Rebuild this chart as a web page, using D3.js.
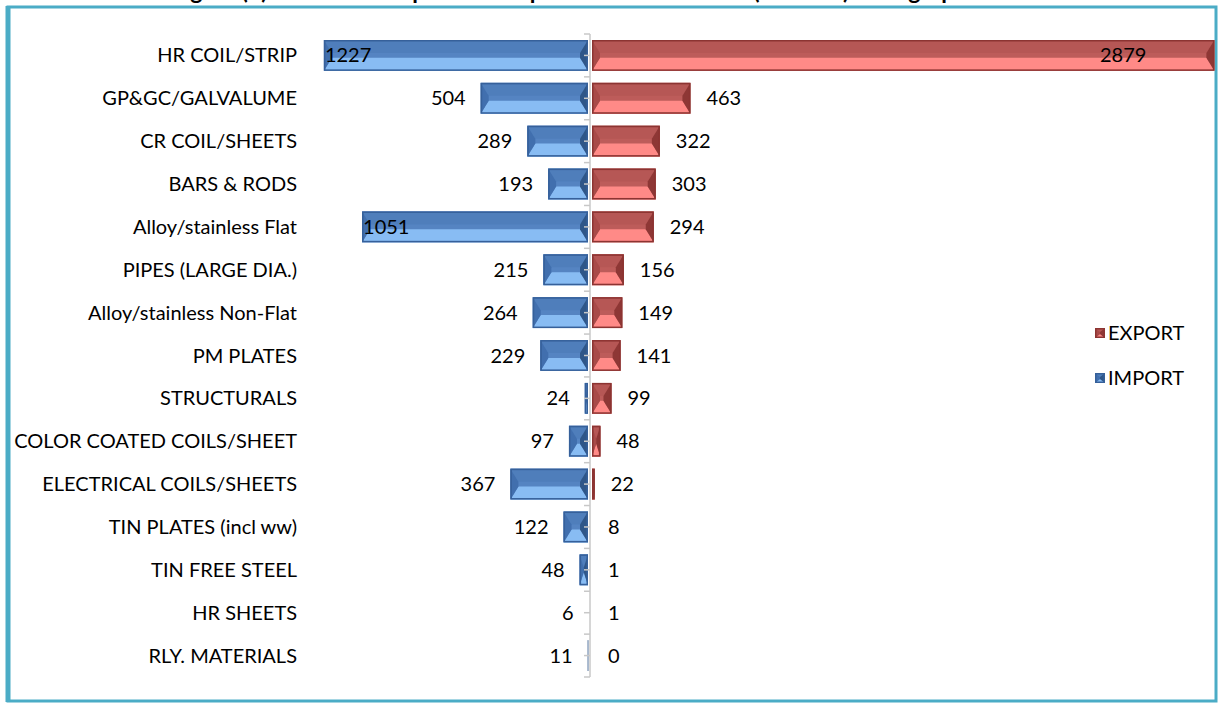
<!DOCTYPE html>
<html>
<head>
<meta charset="utf-8">
<script src="https://cdn.jsdelivr.net/npm/d3@7"></script>
<style>
  html, body { margin: 0; padding: 0; background: #fff; }
  svg { display: block; font-family: Lato, "Open Sans", sans-serif; }
</style>
</head>
<body>
<svg id="chart" width="1219" height="704"></svg>
<script>
// categories top to bottom
const categories = [
    "HR COIL/STRIP", "GP&GC/GALVALUME", "CR COIL/SHEETS", "BARS & RODS",
    "Alloy/stainless Flat", "PIPES (LARGE DIA.)", "Alloy/stainless Non-Flat",
    "PM PLATES", "STRUCTURALS", "COLOR COATED COILS/SHEET",
    "ELECTRICAL COILS/SHEETS", "TIN PLATES (incl ww)", "TIN FREE STEEL",
    "HR SHEETS", "RLY. MATERIALS"
];
const exportValues = [2879, 463, 322, 303, 294, 156, 149, 141, 99, 48, 22, 8, 1, 1, 0];
const importValues = [1227, 504, 289, 193, 1051, 215, 264, 229, 24, 97, 367, 122, 48, 6, 11];
const seriesNames = ["EXPORT", "IMPORT"];

const svg = d3.select("#chart");

const blue = {stroke: "#36609a", top: "#4f7ebb", face: "#5584c2", bottom: "#88bcf3", left: "#416fae", right: "#2f5688"};
const red  = {stroke: "#8c3432", top: "#b65755", face: "#bd5c5a", bottom: "#ff8a87", left: "#a84a48", right: "#8e3735"};

// title sits above the frame, only its lowest part is in view
svg.append("text")
    .attr("x", 610).attr("y", -1)
    .attr("text-anchor", "middle")
    .attr("font-size", 23).attr("font-weight", "bold")
    .attr("fill", "#000")
    .text("Figure (1): Item-wise Import and Export of Finished Steel (in '000 t) during April-March");

// chart frame
svg.append("rect")
    .attr("x", 8).attr("y", 7)
    .attr("width", 1208).attr("height", 694)
    .attr("fill", "none")
    .attr("stroke", "#4bacc6").attr("stroke-width", 3);
svg.append("line")
    .attr("x1", 8).attr("x2", 8).attr("y1", 6).attr("y2", 702)
    .attr("stroke", "#4bacc6").attr("stroke-width", 5);

const cx = 590;
const x = d3.scaleLinear().domain([-2880, 2880]).range([cx - 624.6, cx + 624.6]);
const y = d3.scaleBand().domain(categories).range([34, 677]).paddingInner(0.28).paddingOuter(0.14);

// beveled rectangle
function bevelBar(g, x0, x1, y0, y1, c){
    const w = x1 - x0, h = y1 - y0;
    if (w <= 0) return;
    if (w < 1.5) {
        g.append("rect").attr("x", x0).attr("y", y0).attr("width", Math.max(w, 0.8)).attr("height", h)
            .attr("fill", c.right);
        return;
    }
    const bx = Math.min(8, w / 2), by = Math.min(13, h / 2 - 1);
    const pts = (arr) => arr.map(p => p.join(",")).join(" ");
    g.append("rect").attr("x", x0).attr("y", y0).attr("width", w).attr("height", h).attr("fill", c.face);
    g.append("polygon").attr("points", pts([[x0, y0], [x1, y0], [x1 - bx, y0 + by], [x0 + bx, y0 + by]])).attr("fill", c.top);
    g.append("polygon").attr("points", pts([[x0, y1], [x1, y1], [x1 - bx, y1 - by], [x0 + bx, y1 - by]])).attr("fill", c.bottom);
    g.append("polygon").attr("points", pts([[x0, y0], [x0 + bx, y0 + by], [x0 + bx, y1 - by], [x0, y1]])).attr("fill", c.left);
    g.append("polygon").attr("points", pts([[x1, y0], [x1 - bx, y0 + by], [x1 - bx, y1 - by], [x1, y1]])).attr("fill", c.right);
    g.append("rect").attr("x", x0 + 0.75).attr("y", y0 + 0.75).attr("width", w - 1.5).attr("height", h - 1.5)
        .attr("fill", "none").attr("stroke", c.stroke).attr("stroke-width", 1.5);
}

const bars = svg.append("g").attr("class", "bars");
categories.forEach((cat, i) => {
    const y0 = y(cat), y1 = y(cat) + y.bandwidth();
    bevelBar(bars, x(-importValues[i]), x(0) - 2, y0, y1, blue);
    bevelBar(bars, x(0) + 2, x(exportValues[i]), y0, y1, red);
});

// category axis at zero
const axis = svg.append("g").attr("class", "axis");
axis.append("line")
    .attr("x1", cx).attr("x2", cx).attr("y1", 34).attr("y2", 677)
    .attr("stroke", "#c8c8c8").attr("stroke-width", 1.5);
const step = y.step();
const tickYs = d3.range(0, categories.length * 2 + 1).map(k => 34 + k * step / 2);
axis.selectAll("line.tick").data(tickYs).enter()
    .append("line").attr("class", "tick")
    .attr("x1", cx - 6).attr("x2", cx)
    .attr("y1", d => d).attr("y2", d => d)
    .attr("stroke", "#c8c8c8").attr("stroke-width", 1.5);

// category labels
svg.append("g").selectAll("text").data(categories).enter()
    .append("text")
    .attr("x", 297)
    .attr("y", d => y(d) + y.bandwidth() / 2)
    .attr("dy", "0.35em")
    .attr("text-anchor", "end")
    .attr("font-size", 20)
    .attr("fill", "#000")
    .text(d => d);

// value labels (the long ones go inside the bar)
const labels = svg.append("g").attr("font-size", 20).attr("fill", "#000");
categories.forEach((cat, i) => {
    const yc = y(cat) + y.bandwidth() / 2;
    const iv = importValues[i], ev = exportValues[i];
    const ix = x(-iv);
    const imp = labels.append("text").attr("y", yc).attr("dy", "0.35em").text(iv);
    if (ix < 380) imp.attr("x", ix + 1).attr("text-anchor", "start");
    else imp.attr("x", ix - 15).attr("text-anchor", "end");
    const ex = x(ev);
    const exp = labels.append("text").attr("y", yc).attr("dy", "0.35em").text(ev);
    if (ex + 60 > 1214) exp.attr("x", ex - 68).attr("text-anchor", "end");
    else exp.attr("x", Math.max(ex, x(0) + 2) + 16).attr("text-anchor", "start");
});

// legend
const legend = svg.append("g").attr("class", "legend");
[[seriesNames[0], red, 333], [seriesNames[1], blue, 378]].forEach(([name, c, ly]) => {
    const g = legend.append("g");
    bevelBar(g, 1095, 1105, ly - 5, ly + 5, c);
    g.append("text").attr("x", 1108).attr("y", ly).attr("dy", "0.35em")
        .attr("font-size", 20).attr("fill", "#000").text(name);
});
</script>
</body>
</html>
